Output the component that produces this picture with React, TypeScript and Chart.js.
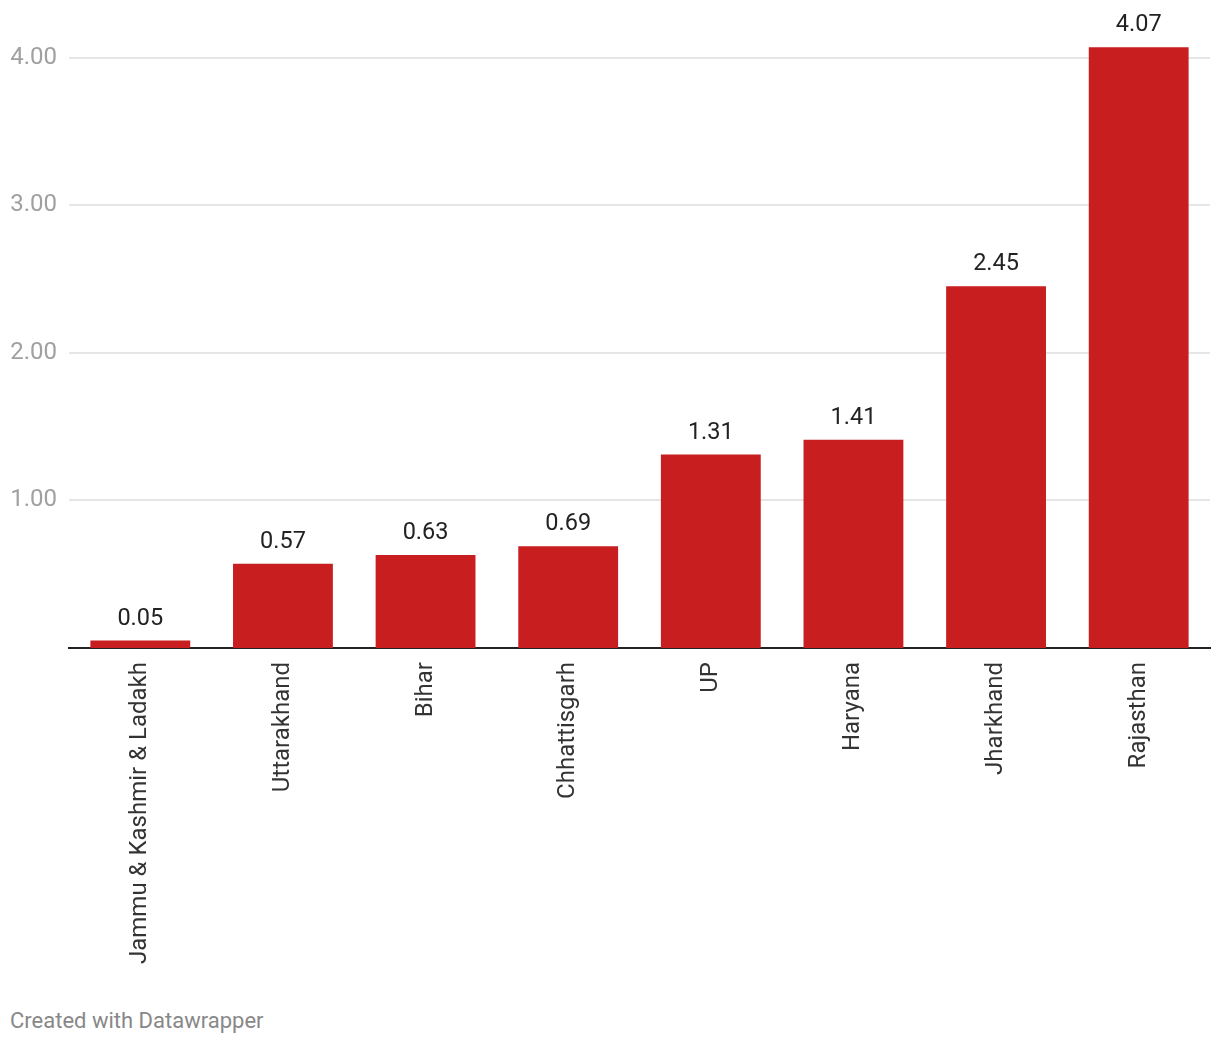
import React, { useEffect, useRef } from "react";
import { Chart, registerables } from "chart.js";

Chart.register(...registerables);

const categories = [
  "Jammu & Kashmir & Ladakh",
  "Uttarakhand",
  "Bihar",
  "Chhattisgarh",
  "UP",
  "Haryana",
  "Jharkhand",
  "Rajasthan",
];
const values = [0.05, 0.57, 0.63, 0.69, 1.31, 1.41, 2.45, 4.07];
const yTicks = [1, 2, 3, 4];

const valueLabels = {
  id: "valueLabels",
  afterDatasetsDraw(chart: any) {
    const ctx = chart.ctx;
    const meta = chart.getDatasetMeta(0);
    ctx.save();
    ctx.font = "23.5px Roboto";
    ctx.fillStyle = "#222222";
    ctx.textAlign = "center";
    ctx.textBaseline = "alphabetic";
    meta.data.forEach((bar: any, i: number) => {
      ctx.fillText(values[i].toFixed(2), bar.x, bar.y - 16);
    });
    ctx.restore();
  },
};

export default function App() {
  const ref = useRef<HTMLCanvasElement>(null);
  useEffect(() => {
    document.body.style.margin = "0";
    const chart = new Chart(ref.current!, {
      type: "bar",
      data: {
        labels: categories,
        datasets: [
          {
            data: values,
            backgroundColor: "#c81e1f",
            barPercentage: 0.7,
            categoryPercentage: 1,
          },
        ],
      },
      options: {
        animation: false,
        responsive: false,
        maintainAspectRatio: false,
        layout: { padding: { top: 28, left: 10, right: 10, bottom: 0 } },
        plugins: { legend: { display: false }, tooltip: { enabled: false } },
        scales: {
          x: {
            grid: { display: false, drawTicks: false },
            border: { display: true, color: "#222222", width: 2 },
            ticks: {
              minRotation: 90,
              maxRotation: 90,
              padding: 14,
              color: "#333333",
              font: { family: "Roboto", size: 24 },
              autoSkip: false,
            },
            afterFit: (scale: any) => {
              scale.height = 352;
            },
          },
          y: {
            min: 0,
            max: 4.2,
            afterBuildTicks: (axis: any) => {
              axis.ticks = yTicks.map((v) => ({ value: v }));
            },
            grid: { color: "#e6e6e6", lineWidth: 2, drawTicks: false },
            border: { display: false },
            ticks: {
              padding: 12,
              color: "#a0a0a0",
              font: { family: "Roboto", size: 24 },
              callback: (v: any) => Number(v).toFixed(2),
            },
            afterFit: (scale: any) => {
              scale.width = 59;
            },
          },
        },
      },
      plugins: [valueLabels],
    });
    return () => chart.destroy();
  }, []);
  return (
    <div style={{ position: "relative", width: 1220, height: 1044 }}>
      <canvas ref={ref} width={1220} height={1000} style={{ display: "block" }} />
      <div
        style={{
          position: "absolute",
          left: 10,
          top: 1008,
          fontFamily: "Roboto",
          fontSize: 22,
          color: "#888888",
        }}
      >
        Created with Datawrapper
      </div>
    </div>
  );
}
